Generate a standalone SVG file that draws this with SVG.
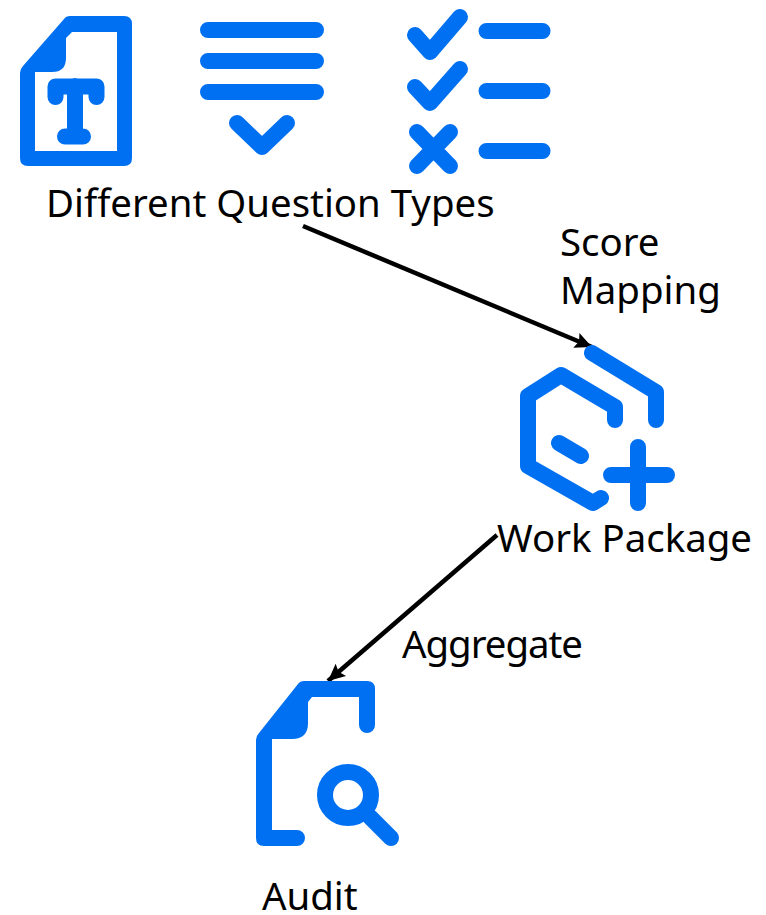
<svg xmlns="http://www.w3.org/2000/svg" width="766" height="915" viewBox="0 0 766 915">
<style>
.s{fill:none;stroke:#0070f2;stroke-width:16;stroke-linecap:round;stroke-linejoin:round}
.f{fill:#0070f2;fill-rule:evenodd}
.t{font-family:"Noto Sans","Open Sans",sans-serif;font-size:38.400px;fill:#000}
.c{stroke:#000;stroke-width:4.500;fill:none;marker-end:url(#a)}
</style>
<defs><marker id="a" markerUnits="userSpaceOnUse" markerWidth="18" markerHeight="18" refX="17" refY="9" orient="auto"><path d="M0 1L17 9L0 17L3 9Z" fill="#000"/></marker></defs>
<rect width="766" height="915" fill="#fff"/>
<g id="connectors">
<path class="c" d="M303 226L592 347"/>
<path class="c" d="M497 535L328 681"/>
</g>
<g id="question-types">
<g id="icon-text">
<path class="f" d="M70 16H124Q132 16 132 24V158Q132 166 124 166H28Q20 166 20 158V73Q20 69 23 66L64 19Q66 16 70 16ZM72 32L66 38V58Q66 72 52 72H35V151H117V32Z"/>
<path class="s" d="M55.500 97V86.500H96.500V97M75 86V136M65 136.500H83"/>
</g>
<g id="icon-dropdown">
<path class="s" d="M208 30H316M208 61H316M208 92H316M237 123L262 147L287 123"/>
</g>
<g id="icon-checklist">
<path class="s" d="M415 35L430 52L460 17M415 87L430 103L460 69M417 132L450 166M450 132L417 166M486.500 31H542.500M486.500 91H542.500M486.500 151H542.500"/>
</g>
<text class="t" x="46" y="217">Different Question Types</text>
<text class="t" x="560" y="256">Score</text>
<text class="t" x="560" y="304">Mapping</text>
</g>
<g id="work-package">
<path class="s" d="M592 353L656 392V420M615 420V407L561 375L528 396V466L593 503L601 498M559 443L581 456M638 447V503M611 475H667"/>
<text class="t" x="497" y="552">Work Package</text>
</g>
<g id="audit">
<text class="t" x="402" y="658" textLength="181">Aggregate</text>
<path class="f" d="M304 681H367Q375 681 375 689V725A8 8 0 0 1 359 725V697H312L308 702V723Q308 739 292 739H272V830H297A8 8 0 0 1 297 846H264Q256 846 256 838V740Q256 736 259 733L298 684Q300 681 304 681Z"/>
<circle cx="348" cy="795" r="23" class="s"/>
<path class="s" d="M370 817L391 838"/>
<text class="t" x="262" y="910">Audit</text>
</g>
</svg>
